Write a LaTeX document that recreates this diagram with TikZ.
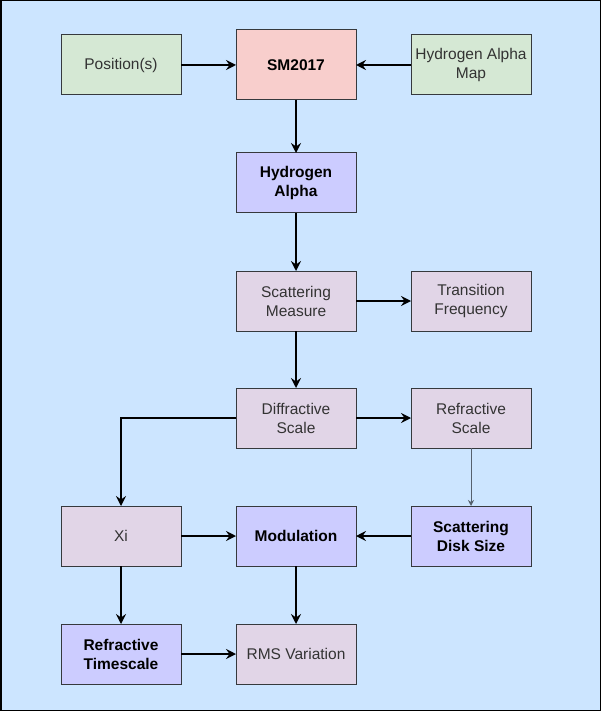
\documentclass[tikz,border=0pt]{standalone}
\usepackage{fontspec}
\setmainfont{Liberation Sans}
\definecolor{canvas}{HTML}{CCE5FF}
\definecolor{inputs}{HTML}{D5E8D4}
\definecolor{model}{HTML}{F8CECC}
\definecolor{derived}{HTML}{E1D5E7}
\definecolor{key}{HTML}{CCCCFF}
\definecolor{edge}{HTML}{36393D}
\definecolor{ink}{HTML}{333333}
\definecolor{slate}{HTML}{56616E}
\usetikzlibrary{positioning,arrows.meta}

\begin{document}
\begin{tikzpicture}[x=1pt,y=-1pt,
    box/.style={draw=edge, line width=1pt, minimum width=120pt, minimum height=60pt,
                inner sep=2pt, outer sep=0pt, align=center,
                font=\fontsize{15.5}{19}\selectfont, text=ink},
    inbox/.style={box, fill=inputs},
    derbox/.style={box, fill=derived},
    keybox/.style={box, fill=key, text=black, font=\fontsize{15.5}{19}\selectfont\bfseries},
    flow/.style={line width=2pt, -{Stealth[length=10pt,width=10pt,inset=3.5pt]}},
    thinflow/.style={line width=1pt, draw=slate, -{Stealth[length=6pt,width=6pt,inset=2pt]}}]
  \useasboundingbox (0,0) rectangle (601,711);
  \draw[fill=canvas, line width=1.5pt] (0.75,0.75) rectangle (600.25,710.25);

  % top row
  \node[inbox] (pos) at (121,65) {Position(s)};
  \node[keybox, fill=model, minimum height=70pt, right=55pt of pos] (sm) {SM2017};
  \node[inbox, right=55pt of sm] (hmap) {Hydrogen Alpha\\Map};

  % main column
  \node[keybox, below=53pt of sm] (halpha) {Hydrogen\\Alpha};
  \node[derbox, below=58pt of halpha] (scat) {Scattering\\Measure};
  \node[derbox, right=55pt of scat] (trans) {Transition\\Frequency};
  \node[derbox, below=57pt of scat] (diff) {Diffractive\\Scale};
  \node[derbox, right=55pt of diff] (refr) {Refractive\\Scale};
  \node[keybox, below=58pt of diff] (mod) {Modulation};
  \node[derbox, left=55pt of mod] (xi) {Xi};
  \node[keybox, right=55pt of mod] (disk) {Scattering\\Disk Size};
  \node[derbox, below=58pt of mod] (rms) {RMS Variation};
  \node[keybox, left=55pt of rms] (rtime) {Refractive\\Timescale};

  % connectors
  \draw[flow] (pos) -- (sm);
  \draw[flow] (hmap) -- (sm);
  \draw[flow] (sm) -- (halpha);
  \draw[flow] (halpha) -- (scat);
  \draw[flow] (scat) -- (trans);
  \draw[flow] (scat) -- (diff);
  \draw[flow] (diff) -- (refr);
  \draw[flow] (diff.west) -| (xi);
  \draw[thinflow] (refr) -- (disk);
  \draw[flow] (xi) -- (mod);
  \draw[flow] (disk) -- (mod);
  \draw[flow] (mod) -- (rms);
  \draw[flow] (xi) -- (rtime);
  \draw[flow] (rtime) -- (rms);
\end{tikzpicture}
\end{document}
